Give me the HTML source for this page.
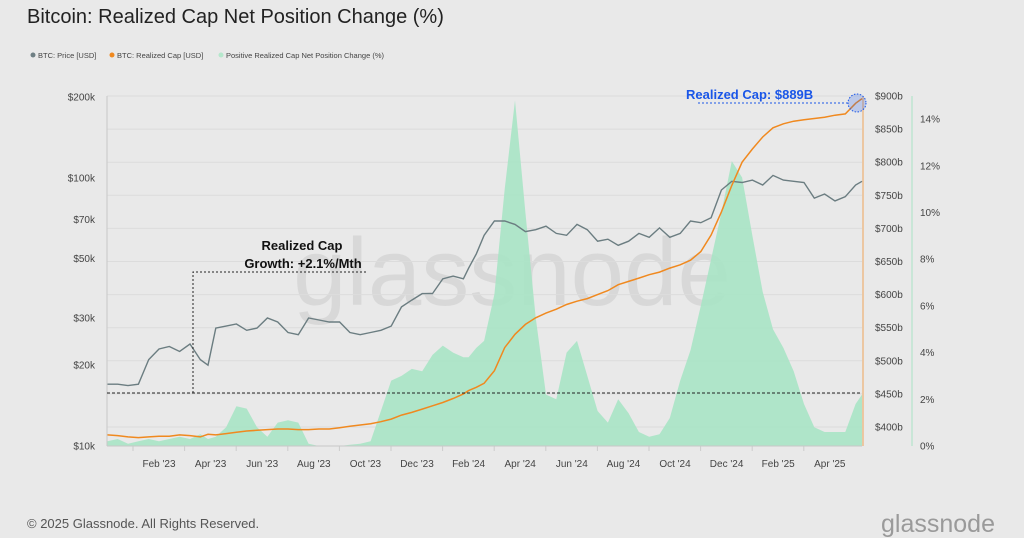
<!DOCTYPE html>
<html><head><meta charset="utf-8"><style>
body{margin:0;width:1024px;height:538px;background:#e9e9e9;font-family:"Liberation Sans",sans-serif;overflow:hidden}
svg{display:block}
</style></head><body>
<svg id="c" width="1024" height="538" font-family="Liberation Sans, sans-serif">
<rect width="1024" height="538" fill="#e9e9e9"/>
<text x="27" y="23" font-size="20" fill="#222">Bitcoin: Realized Cap Net Position Change (%)</text>
<g font-size="7.5" fill="#444">
 <circle cx="33" cy="55" r="2.5" fill="#6f7f84"/><text x="38" y="58">BTC: Price [USD]</text>
 <circle cx="112" cy="55" r="2.5" fill="#f0891f"/><text x="117" y="58">BTC: Realized Cap [USD]</text>
 <circle cx="221" cy="55" r="2.5" fill="#b5e8cc"/><text x="226" y="58">Positive Realized Cap Net Position Change (%)</text>
</g>
<text x="512" y="305" font-size="96" fill="#000" fill-opacity="0.07" text-anchor="middle">glassnode</text>
<g id="grid"></g>
<g id="area"></g>
<g id="lines"></g>
<g id="axes"></g>
<g>
 <line x1="107" y1="393" x2="862" y2="393" stroke="#222" stroke-dasharray="3,2" stroke-width="1"/>
 <polyline points="193,393 193,272 366,272" fill="none" stroke="#222" stroke-dasharray="2,2" stroke-width="1"/>
 <text x="302" y="250" font-size="13" font-weight="bold" text-anchor="middle" fill="#111">Realized Cap</text>
 <text x="303" y="268" font-size="13" font-weight="bold" text-anchor="middle" fill="#111">Growth: +2.1%/Mth</text>
</g>
<g>
 <text x="686" y="99" font-size="13" font-weight="bold" fill="#1a56e8">Realized Cap: $889B</text>
 <line x1="698" y1="103" x2="850" y2="103" stroke="#1a56e8" stroke-dasharray="2,2"/>
 <circle cx="857" cy="103" r="9" fill="#1a56e8" fill-opacity="0.22" stroke="#1a56e8" stroke-dasharray="1.5,1.5"/>
</g>
<text x="27" y="528" font-size="13" fill="#555">© 2025 Glassnode. All Rights Reserved.</text>
<text x="995" y="532" font-size="25" fill="#9a9a9a" text-anchor="end">glassnode</text>
</svg>
<script>
const months=[-1,-0.6,-0.2,0.2,0.6,1,1.4,1.8,2.2,2.6,2.9,3.2,3.6,4,4.4,4.8,5.2,5.6,6,6.4,6.8,7.2,7.6,8,8.4,8.8,9.2,9.6,10,10.4,10.8,11.2,11.6,12,12.4,12.8,13,13.3,13.6,14,14.4,14.8,15.2,15.6,16,16.4,16.8,17.2,17.6,18,18.4,18.8,19.2,19.6,20,20.4,20.8,21.2,21.6,22,22.4,22.8,23.2,23.6,24,24.4,24.8,25.2,25.6,26,26.4,26.8,27.2,27.6,28,28.25];
const price=[17,17,16.8,17,21,23,23.5,22.5,24,21,20,27.5,28,28.5,27,27.5,30,29,26.5,26,30,29.5,29,29,26.5,26,26.5,27,28,33,35,37,37,42,43,42,46,52,61,69,69,67,63,64,66,62,61,67,64,58,59,56,58,62,60,65,60,62,69,68,71,90,97,96,98,94,102,98,97,96,84,87,82,85,94,97];
const rcap=[388,387,385,384,385,386,386,388,387,385,389,388,390,392,394,395,396,397,397,396,396,397,397,399,401,403,405,408,412,418,422,427,432,437,443,450,455,460,466,485,520,540,555,565,572,578,585,590,594,600,606,615,620,625,630,634,640,645,652,665,690,725,765,800,820,838,852,858,862,864,866,868,871,873,889,896];
const pct=[0.2,0.3,0.1,0.2,0.3,0.2,0.3,0.4,0.3,0.5,0.3,0.4,0.8,1.7,1.6,0.8,0.4,1.0,1.1,1.0,0.1,0,0,0,0.05,0.1,0.2,1.5,2.8,3.0,3.3,3.2,3.9,4.3,4.0,3.8,3.8,4.2,4.5,6.5,11,14.8,10,5.5,2.2,2.0,4.0,4.5,3.0,1.5,1.0,2.0,1.4,0.6,0.4,0.5,1.2,2.8,4.1,6.0,8.0,10.0,12.2,11.5,9.0,6.6,5.0,4.2,3.2,1.8,0.8,0.6,0.6,0.6,1.8,2.2];
const priceTicks=[10,20,30,50,70,100,200];
const capTicks=[400,450,500,550,600,650,700,750,800,850,900];
const pctTicks=[0,2,4,6,8,10,12,14];
const monthLabels=["Feb '23","Apr '23","Jun '23","Aug '23","Oct '23","Dec '23","Feb '24","Apr '24","Jun '24","Aug '24","Oct '24","Dec '24","Feb '25","Apr '25"];
const labelMonths=[1,3,5,7,9,11,13,15,17,19,21,23,25,27];
const X=m=>133.2+m*25.8;
const YP=p=>446-349*Math.log(p/10)/Math.log(20);
const YC=v=>96+(900-v)/50*33.1;
const YG=v=>446-v*23.35;
const NS="http://www.w3.org/2000/svg";
function mk(t,a,par){const e=document.createElementNS(NS,t);for(const k in a)e.setAttribute(k,a[k]);document.getElementById(par).appendChild(e);return e;}
capTicks.forEach(v=>{const l=mk('line',{x1:107,x2:862,y1:YC(v),y2:YC(v),stroke:'#dcdcdc','stroke-width':1},'grid');

});
labelMonths.forEach((m,i)=>{const l=mk('line',{x1:X(m)-26,x2:X(m)-26,y1:446,y2:451,stroke:'#ccc'},'grid');


const t=mk('text',{x:X(m),y:467,'font-size':10,fill:'#444','text-anchor':'middle'},'axes');t.textContent=monthLabels[i];

});
let d='M'+X(months[0])+','+YG(0);
pct.forEach((v,i)=>{d+=' L'+X(months[i]).toFixed(1)+','+YG(v).toFixed(1);});
d+=' L'+X(months[pct.length-1])+','+YG(0)+' Z';
const a=mk('path',{d:d,fill:'#a9e4c5','fill-opacity':0.9},'area');


const pl=mk('polyline',{points:price.map((v,i)=>X(months[i]).toFixed(1)+','+YP(v).toFixed(1)).join(' '),fill:'none',stroke:'#6b7d81','stroke-width':1.4},'lines');


const cl=mk('polyline',{points:rcap.map((v,i)=>X(months[i]).toFixed(1)+','+YC(v).toFixed(1)).join(' '),fill:'none',stroke:'#f0891f','stroke-width':1.5},'lines');


[['line',{x1:107,x2:107,y1:96,y2:446,stroke:'#c8c8c8'}],['line',{x1:107,x2:862,y1:446,y2:446,stroke:'#c8c8c8'}],['line',{x1:863,x2:863,y1:96,y2:446,stroke:'#f0a55a'}],['line',{x1:912,x2:912,y1:96,y2:446,stroke:'#a9e4c5'}]].forEach(s=>{const e=mk(s[0],s[1],'axes');

});
priceTicks.forEach(v=>{const t=mk('text',{x:95,y:YP(v)+3.5,'font-size':10,fill:'#444','text-anchor':'end'},'axes');t.textContent='$'+v+'k';

});
capTicks.forEach(v=>{const t=mk('text',{x:875,y:YC(v)+3.5,'font-size':10,fill:'#444'},'axes');t.textContent='$'+v+'b';

});
pctTicks.forEach(v=>{const t=mk('text',{x:920,y:YG(v)+3.5,'font-size':10,fill:'#444'},'axes');t.textContent=v+'%';

});
</script>
</body></html>
